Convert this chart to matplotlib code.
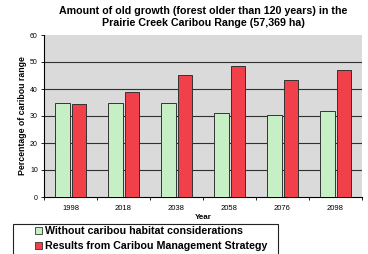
import matplotlib
matplotlib.use("Agg")
import matplotlib.pyplot as plt
import numpy as np
from matplotlib.patches import Patch, Rectangle

plt.rcParams['font.family'] = ['Liberation Sans', 'DejaVu Sans']

years = ["1998", "2018", "2038", "2058", "2076", "2098"]
without_caribou = [35, 35, 35, 31, 30.5, 32]
with_strategy = [34.5, 39, 45, 48.5, 43.5, 47]
series_labels = ["Without caribou habitat considerations",
                 "Results from Caribou Management Strategy"]
yticks = [0, 10, 20, 30, 40, 50, 60]

W, H = 368, 254
fig = plt.figure(figsize=(W / 100, H / 100), dpi=100)
fig.patch.set_facecolor('white')
ax = fig.add_axes([44 / W, 1 - 197 / H, (362 - 44) / W, (197 - 35) / H])
ax.set_facecolor('#dadada')

x = np.arange(len(years))
green = '#c6efc6'
red = '#f2404a'
ax.bar(x - 0.15, without_caribou, width=0.29, color=green, edgecolor='#333333', linewidth=0.7, zorder=3)
ax.bar(x + 0.16, with_strategy, width=0.28, color=red, edgecolor='#333333', linewidth=0.7, zorder=3)

ax.set_xlim(-0.5, len(years) - 0.5)
ax.set_ylim(0, 60)
ax.set_yticks(yticks)
ax.set_yticklabels([str(v) for v in yticks], fontsize=5)
ax.set_xticks(x)
ax.set_xticklabels(years, fontsize=5.5)
ax.set_xticks(np.arange(len(years) + 1) - 0.5, minor=True)
ax.tick_params(axis='x', which='major', length=0, pad=6)
ax.tick_params(axis='x', which='minor', length=2, direction='out', width=0.6)
ax.tick_params(axis='y', length=2.5, width=0.6, pad=2)

for v in yticks[1:-1]:
    ax.axhline(v, color='#303030', linewidth=0.8, zorder=1)

for s in ['top', 'right']:
    ax.spines[s].set_visible(False)
ax.spines['left'].set_linewidth(0.8)
ax.spines['bottom'].set_linewidth(0.8)

ax.set_ylabel("Percentage of caribou range", fontsize=6.3, fontweight='bold', labelpad=2)
ax.set_xlabel("Year", fontsize=5.8, fontweight='bold', labelpad=1)
ax.xaxis.set_label_coords((203 - 44) / (362 - 44), -0.105)

fig.text(203 / W, 1 - 17 / H, "Amount of old growth (forest older than 120 years) in the\nPrairie Creek Caribou Range (57,369 ha)",
         ha='center', va='center', fontsize=7.7, fontweight='bold', linespacing=1.25)

# legend frame (extends past the bottom edge as in the reference)
fig.patches.append(Rectangle((13 / W, -0.05), (278 - 13) / W, 0.05 + (1 - 224 / H),
                             transform=fig.transFigure, facecolor='white',
                             edgecolor='#222222', linewidth=0.8, zorder=1))

handles = [Patch(facecolor=green, edgecolor='#333333', linewidth=0.6),
           Patch(facecolor=red, edgecolor='#333333', linewidth=0.6)]
leg = fig.legend(handles, series_labels, loc='upper left', bbox_to_anchor=(33 / W, 1 - 224 / H),
                 prop={'size': 7.7, 'weight': 'bold'}, frameon=False,
                 borderpad=0.2, handlelength=0.65, handleheight=0.65, handletextpad=0.25,
                 labelspacing=0.45, borderaxespad=0)

fig.savefig("out.png", dpi=100)
